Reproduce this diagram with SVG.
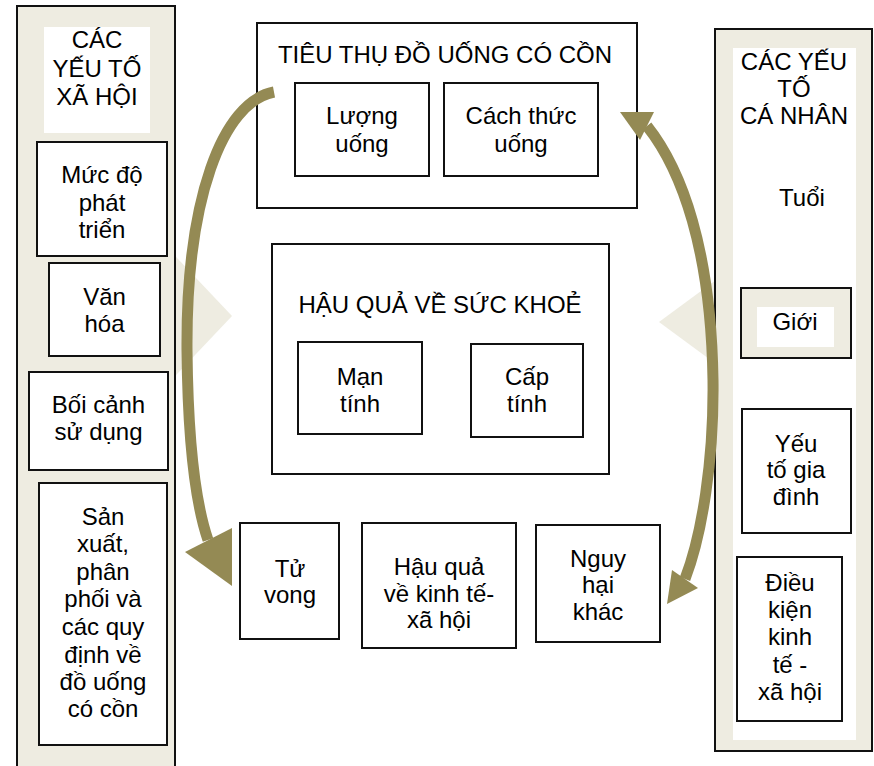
<svg xmlns="http://www.w3.org/2000/svg" width="874" height="766" viewBox="0 0 874 766">
<style>
.bx{fill:#fff;stroke:#111;stroke-width:2}
.pn{fill:#EEECE1;stroke:#111;stroke-width:2}
.t{font-family:"Liberation Sans",Arial,sans-serif;font-size:24px;fill:#000;text-anchor:middle}
.arw{fill:none;stroke:#948A54;stroke-width:11}
.hd{fill:#948A54}
.bg{fill:#EEECE1}
</style>
<rect width="874" height="766" fill="#fff"/>
<g id="bg-shapes">
<polygon class="bg" points="160,240 232,316 160,392"/>
<polygon class="bg" points="659,322 735,266 735,378"/>
</g>
<g id="social-panel">
<rect class="pn" x="17" y="6" width="158" height="770"/>
<rect x="44" y="27" width="106" height="106" fill="#fff"/>
<text class="t" x="97" y="48">CÁC</text>
<text class="t" x="97" y="77">YẾU TỐ</text>
<text class="t" x="97" y="105">XÃ HỘI</text>
</g>
<g id="muc-do">
<rect class="bx" x="37" y="142" width="130" height="114"/>
<text class="t" x="102" y="183">Mức độ</text>
<text class="t" x="102" y="211">phát</text>
<text class="t" x="102" y="238">triển</text>
</g>
<g id="van-hoa">
<rect class="bx" x="49" y="263" width="111" height="93"/>
<text class="t" x="104.5" y="305">Văn</text>
<text class="t" x="104.5" y="332">hóa</text>
</g>
<g id="boi-canh">
<rect class="bx" x="29" y="372" width="139" height="98"/>
<text class="t" x="98.5" y="413">Bối cảnh</text>
<text class="t" x="98.5" y="440">sử dụng</text>
</g>
<g id="san-xuat">
<rect class="bx" x="39" y="483" width="128" height="262"/>
<text class="t" x="103" y="525">Sản</text>
<text class="t" x="103" y="552">xuất,</text>
<text class="t" x="103" y="580">phân</text>
<text class="t" x="103" y="607">phối và</text>
<text class="t" x="103" y="635">các quy</text>
<text class="t" x="103" y="663">định về</text>
<text class="t" x="103" y="690">đồ uống</text>
<text class="t" x="103" y="717">có cồn</text>
</g>
<g id="individual-panel">
<rect class="pn" x="715" y="29" width="157" height="722"/>
<rect x="733" y="48" width="123" height="692" fill="#fff"/>
<text class="t" x="794" y="70">CÁC YẾU</text>
<text class="t" x="794" y="97">TỐ</text>
<text class="t" x="794" y="124">CÁ NHÂN</text>
<text class="t" x="802" y="206">Tuổi</text>
</g>
<g id="gioi">
<rect class="pn" x="741" y="288" width="110" height="70"/>
<rect x="757" y="307" width="77" height="40" fill="#fff"/>
<text class="t" x="795" y="330">Giới</text>
</g>
<g id="gia-dinh">
<rect class="bx" x="742" y="409" width="109" height="124"/>
<text class="t" x="796" y="452">Yếu</text>
<text class="t" x="796" y="478">tố gia</text>
<text class="t" x="796" y="505">đình</text>
</g>
<g id="kinh-te">
<rect class="bx" x="737" y="557" width="105" height="164"/>
<text class="t" x="790" y="591">Điều</text>
<text class="t" x="790" y="618">kiện</text>
<text class="t" x="790" y="645">kinh</text>
<text class="t" x="790" y="673">tế -</text>
<text class="t" x="790" y="700">xã hội</text>
</g>
<g id="tieu-thu">
<rect class="bx" x="257" y="23" width="380" height="185"/>
<text class="t" x="445" y="63">TIÊU THỤ ĐỒ UỐNG CÓ CỒN</text>
</g>
<g id="luong-uong">
<rect class="bx" x="295" y="83" width="134" height="93"/>
<text class="t" x="362" y="124">Lượng</text>
<text class="t" x="362" y="152">uống</text>
</g>
<g id="cach-thuc">
<rect class="bx" x="444" y="83" width="154" height="93"/>
<text class="t" x="521" y="124">Cách thức</text>
<text class="t" x="521" y="152">uống</text>
</g>
<g id="hau-qua-suc-khoe">
<rect class="bx" x="272" y="244" width="337" height="230"/>
<text class="t" x="440" y="313">HẬU QUẢ VỀ SỨC KHOẺ</text>
</g>
<g id="man-tinh">
<rect class="bx" x="298" y="342" width="124" height="92"/>
<text class="t" x="360" y="385">Mạn</text>
<text class="t" x="360" y="412">tính</text>
</g>
<g id="cap-tinh">
<rect class="bx" x="471" y="344" width="112" height="93"/>
<text class="t" x="527" y="385">Cấp</text>
<text class="t" x="527" y="412">tính</text>
</g>
<g id="tu-vong">
<rect class="bx" x="240" y="523" width="99" height="116"/>
<text class="t" x="290" y="577">Tử</text>
<text class="t" x="290" y="603">vong</text>
</g>
<g id="kinh-te-xa-hoi">
<rect class="bx" x="362" y="523" width="154" height="125"/>
<text class="t" x="439" y="575">Hậu quả</text>
<text class="t" x="439" y="602">về kinh tế-</text>
<text class="t" x="439" y="628">xã hội</text>
</g>
<g id="nguy-hai">
<rect class="bx" x="536" y="525" width="124" height="117"/>
<text class="t" x="598" y="567">Nguy</text>
<text class="t" x="598" y="593">hại</text>
<text class="t" x="598" y="620">khác</text>
</g>
<g id="connectors">
<path class="arw" d="M274 92 C222 102 186 200 187 350 C188 450 196 505 208 540"/>
<polygon class="hd" points="185,552 232,528 232,586"/>
<path class="arw" d="M685 579 C702 535 714 460 713 380 C711 250 682 170 647 126"/>
<polygon class="hd" points="620,112 654,112 640,140"/>
<polygon class="hd" points="667,604 672,570 698,588"/>
</g>
</svg>
